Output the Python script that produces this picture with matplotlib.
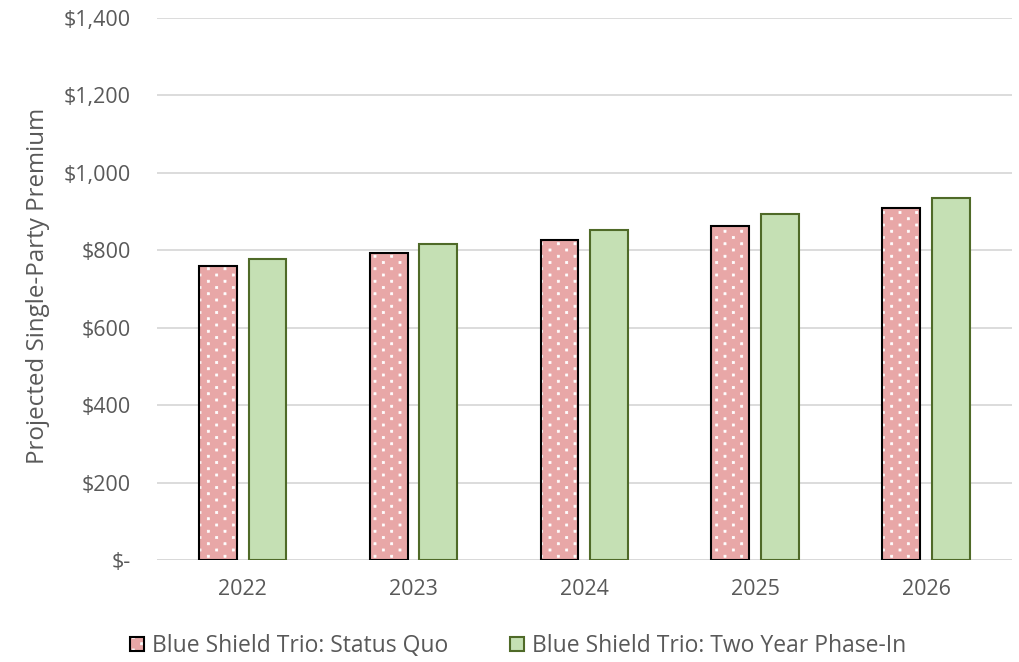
import numpy as np
import matplotlib
matplotlib.use("Agg")
import matplotlib.pyplot as plt
import matplotlib.hatch as mhatch
from matplotlib.path import Path
from matplotlib.ticker import FuncFormatter
from matplotlib.patches import Patch

years = ["2022", "2023", "2024", "2025", "2026"]
status_quo = [760, 792, 826, 863, 908]
phase_in = [777, 815, 852, 893, 936]
series_names = ["Blue Shield Trio: Status Quo", "Blue Shield Trio: Two Year Phase-In"]


# sparse staggered square dots for '.' (wide spacing across, tight rows)
class SquareDots(mhatch.HatchPatternBase):
    ncols = 6
    nrows = 16
    half = 0.0105

    def __init__(self, hatch, density):
        self.pts = []
        if "." in hatch:
            for r in range(self.nrows + 1):
                y = r / self.nrows
                if r % 2 == 0:
                    xs = np.linspace(0, 1, self.ncols + 1)
                else:
                    xs = (np.arange(self.ncols) + 0.5) / self.ncols
                self.pts += [(x, y) for x in xs]
        self.num_vertices = len(self.pts) * 5

    def set_vertices_and_codes(self, vertices, codes):
        h = self.half
        sq = np.array([[-h, -h], [h, -h], [h, h], [-h, h], [-h, -h]])
        for i, (x, y) in enumerate(self.pts):
            vertices[i * 5:(i + 1) * 5] = sq + (x, y)
            codes[i * 5:(i + 1) * 5] = [Path.MOVETO, Path.LINETO, Path.LINETO,
                                        Path.LINETO, Path.CLOSEPOLY]


mhatch._hatch_types = [t for t in mhatch._hatch_types
                       if t is not mhatch.SmallFilledCircles] + [SquareDots]

plt.rcParams["font.family"] = ["Open Sans", "DejaVu Sans"]
plt.rcParams["hatch.linewidth"] = 0.5
grey = "#595959"
red = "#E8A7A7"
green = "#C5E0B4"
green_edge = "#4F6A28"

fig = plt.figure(figsize=(10.2, 6.62), dpi=100)
ax = fig.add_axes([0.154, 0.154, 0.838, 0.819])

x = np.arange(len(years))
w = 0.222
off = 0.146

# dotted red bars: white dots first, then black outline on top
ax.bar(x - off, status_quo, w, color=red, edgecolor="white", hatch=".", linewidth=0, zorder=2)
ax.bar(x - off, status_quo, w, fill=False, edgecolor="black", linewidth=1.5, zorder=3)
ax.bar(x + off, phase_in, w, color=green, edgecolor=green_edge, linewidth=1.5, zorder=3)

ax.set_xlim(-0.5, len(years) - 0.5)
ax.set_ylim(0, 1400)
ax.set_yticks(range(0, 1401, 200))
ax.yaxis.set_major_formatter(FuncFormatter(lambda v, p: "$-" if v == 0 else f"${v:,.0f}"))
ax.set_xticks(x)
ax.set_xticklabels(years)
ax.grid(axis="y", color="#D9D9D9", linewidth=1.3, zorder=0)
ax.axhline(0, color="#D9D9D9", linewidth=1.3, zorder=1)
for s in ax.spines.values():
    s.set_visible(False)
ax.tick_params(length=0, colors=grey, labelsize=15.5)
ax.tick_params(axis="y", pad=19)
ax.tick_params(axis="x", pad=14)
ax.set_ylabel("Projected Single-Party Premium", color=grey, fontsize=17.4)
ax.yaxis.set_label_coords(-0.125, 0.505)

red_handle = (Patch(facecolor=red, edgecolor="white", hatch=".", linewidth=0),
              Patch(fill=False, edgecolor="black", linewidth=1.5))
green_handle = Patch(facecolor=green, edgecolor=green_edge, linewidth=1.5)
fig.legend([red_handle, green_handle], series_names, loc="center",
           bbox_to_anchor=(0.508, 0.024), ncol=2, frameon=False, fontsize=16.5,
           labelcolor=grey, handlelength=0.62, handleheight=0.62,
           handletextpad=0.35, columnspacing=2.7)

fig.savefig("out.png", dpi=100)
